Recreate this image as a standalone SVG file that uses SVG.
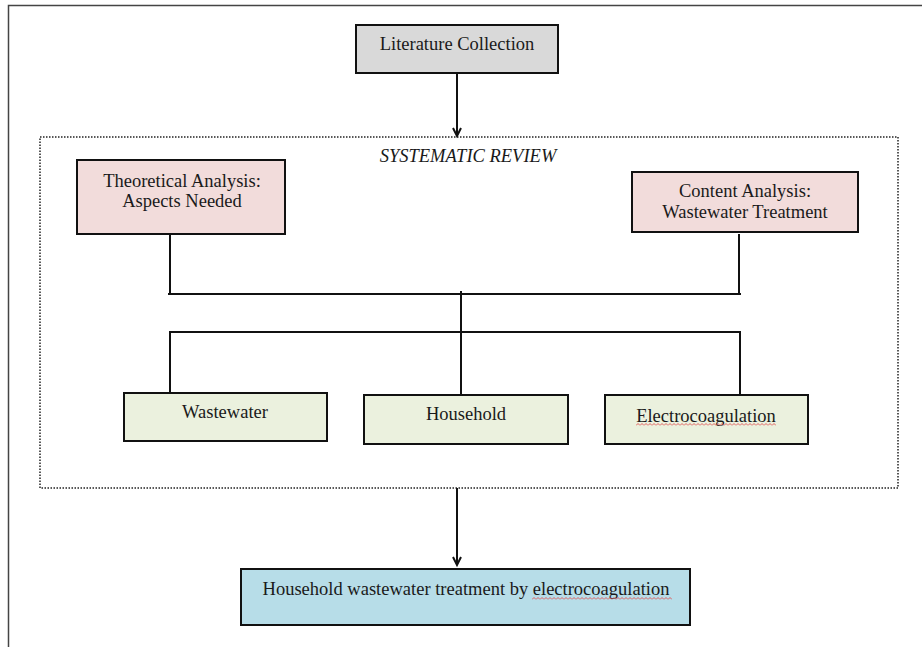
<svg xmlns="http://www.w3.org/2000/svg" width="922" height="647" viewBox="0 0 922 647">
<defs>
<marker id="ah" markerWidth="12" markerHeight="12" refX="9" refY="5" orient="auto" markerUnits="userSpaceOnUse"><path d="M1,1 L9,5 L1,9" fill="none" stroke="#111" stroke-width="2"/></marker>
<pattern id="wave" width="4" height="3" patternUnits="userSpaceOnUse"><path d="M0,2.5 L2,0.5 L4,2.5" fill="none" stroke="#e05050" stroke-width="0.9"/></pattern>
<style>
.t{font-family:"Liberation Serif","Times New Roman",serif;font-size:18.5px;fill:#1a1a1a;text-anchor:middle}
.box{stroke:#111;stroke-width:2}
.ln{stroke:#111;stroke-width:2;fill:none}
</style>
</defs>
<rect width="922" height="647" fill="#fff"/>
<path d="M8.5,647 V5.5 H922" fill="none" stroke="#444" stroke-width="1.5"/>
<rect x="40" y="137" width="858" height="351" fill="none" stroke="#222" stroke-width="1.5" stroke-dasharray="1.5,1.5"/>
<text class="t" x="468" y="162" font-style="italic" font-size="17">SYSTEMATIC REVIEW</text>
<g id="connectors">
<line class="ln" x1="457" y1="73" x2="457" y2="136" marker-end="url(#ah)"/>
<path class="ln" d="M170,234 V294"/>
<path class="ln" d="M168,294 H741"/>
<path class="ln" d="M739,234 V295"/>
<path class="ln" d="M461,291 V398"/>
<path class="ln" d="M170,393 V332 H740 V396"/>
<line class="ln" x1="457" y1="488" x2="457" y2="565" marker-end="url(#ah)"/>
</g>
<g id="literature">
<rect class="box" x="356" y="25" width="202" height="48" fill="#d9d9d9"/>
<text class="t" x="457" y="50">Literature Collection</text>
</g>
<g id="theoretical">
<rect class="box" x="77" y="160" width="208" height="74" fill="#f2dcdb"/>
<text class="t" x="182" y="187">Theoretical Analysis:</text>
<text class="t" x="182" y="207">Aspects Needed</text>
</g>
<g id="content">
<rect class="box" x="632" y="172" width="226" height="60" fill="#f2dcdb"/>
<text class="t" x="745" y="197">Content Analysis:</text>
<text class="t" x="745" y="218">Wastewater Treatment</text>
</g>
<g id="wastewater">
<rect class="box" x="124" y="393" width="203" height="48" fill="#ebf1de"/>
<text class="t" x="225" y="418">Wastewater</text>
</g>
<g id="household">
<rect class="box" x="364" y="395" width="204" height="49" fill="#ebf1de"/>
<text class="t" x="466" y="420">Household</text>
</g>
<g id="electrocoagulation">
<rect class="box" x="605" y="395" width="203" height="49" fill="#ebf1de"/>
<text class="t" x="706" y="422">Electrocoagulation</text>
<rect x="636" y="423" width="140" height="3" fill="url(#wave)"/>
</g>
<g id="result">
<rect class="box" x="241" y="569" width="449" height="56" fill="#b7dde8"/>
<text class="t" x="466" y="595">Household wastewater treatment by electrocoagulation</text>
<rect x="532" y="597" width="140" height="3" fill="url(#wave)"/>
</g>
</svg>
